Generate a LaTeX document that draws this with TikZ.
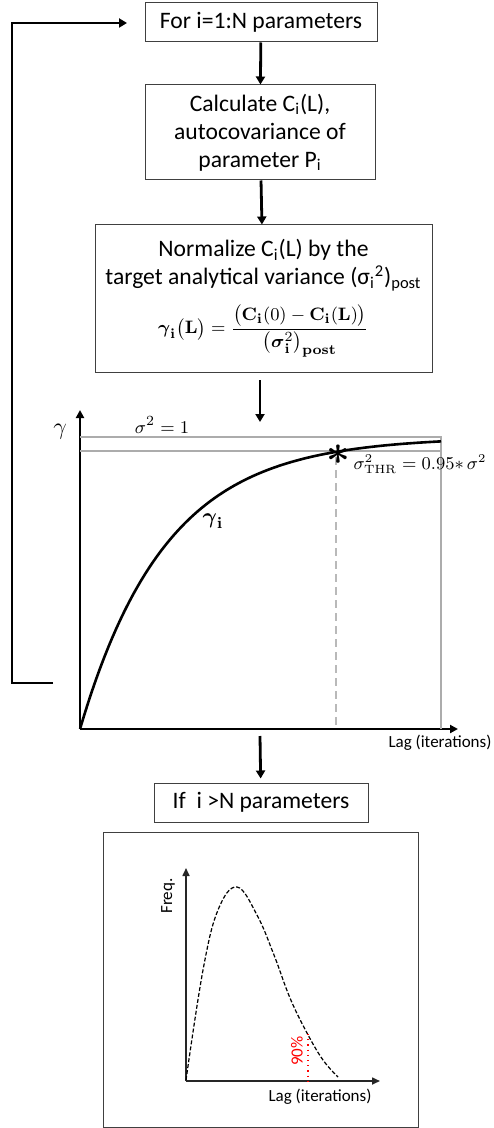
\documentclass[tikz,border=0pt]{standalone}
\usepackage{amsmath}
\usepackage[no-math]{fontspec}
\setmainfont{Carlito}
\usetikzlibrary{arrows.meta,positioning,calc}

\begin{document}
\begin{tikzpicture}[
  x=0.5pt, y=-0.5pt,
  every node/.style={font=\fontsize{11.8}{14}\selectfont},
  box/.style={draw=black!75, line width=0.5pt, align=center, inner sep=2pt, fill=white},
  arr/.style={-{Triangle[length=4pt,width=4.5pt]}, line width=1.4pt},
  axis/.style={-{Triangle[length=4pt,width=4pt]}, line width=1.3pt},
  axs/.style={-{Triangle[length=4pt,width=3.5pt]}, line width=0.8pt, draw=black!85},
  refline/.style={draw=gray!65, line width=0.6pt},
  lab/.style={font=\fontsize{8.5}{10}\selectfont},
  mlab/.style={font=\fontsize{9}{11}\selectfont}
]
\useasboundingbox (0,0) rectangle (493,1128);

%% flow boxes
\node[box, minimum width=116pt, minimum height=19.5pt] (loop) at (261,22.5) {For i=1:N parameters};
\node[box, minimum width=115pt, minimum height=47.5pt] (acov) at (260,132.5)
  {Calculate C\textsubscript{i}(L),\\ autocovariance of\\ parameter P\textsubscript{i}};
\node[box, minimum width=168.5pt, minimum height=73.5pt] (norm) at (263.5,298.5)
  {Normalize C\textsubscript{i}(L) by the\\
   target analytical variance (σ\textsubscript{i}\textsuperscript{2})\textsubscript{post}\\[6pt]
   {\fontsize{9.5}{12}\selectfont$\displaystyle \boldsymbol{\gamma}_{\mathbf{i}}\bigl(\mathbf{L}\bigr)=
   \frac{\bigl(\mathbf{C}_{\mathbf{i}}(0)-\mathbf{C}_{\mathbf{i}}(\mathbf{L})\bigr)}
   {\bigl(\boldsymbol{\sigma}_{\mathbf{i}}^{2}\bigr)_{\mathbf{post}}}$}};
\node[box, minimum width=107pt, minimum height=19.5pt] (done) at (261,802.5) {If\ \ i >N parameters};

\draw[arr] (loop) -- (acov);
\draw[arr] (acov) -- (norm);

\coordinate (n1) at (260,380);
\coordinate (n2) at (260,422);
\draw[arr] (n1) -- (n2);

%% autocorrelation plot
\coordinate (o)    at (80,729);
\coordinate (ytop) at (80,410);
\coordinate (xend) at (458,729);
\draw[axis] (o) -- (ytop);
\draw[axis] (o) -- (xend);
\draw[refline] (80,437) -- (441,437) -- (441,729);
\draw[refline] (80,451) -- (441,451);
\draw[gray!55, line width=1pt, dash pattern=on 4pt off 2.5pt] (336,457) -- (336,729);
\draw[line width=1.3pt] plot[domain=0:361, samples=90] ({80+\x},{729-292*(1-exp(-\x/86))});
\node (star) at (338,455) {\huge$\boldsymbol{\ast}$};

\node[mlab, font=\fontsize{12}{14}\selectfont] (gam) at (60,432) {$\gamma$};
\node[mlab, font=\fontsize{9.5}{12}\selectfont] (sone) at (162,425) {$\sigma^{2}=1$};
\node[mlab] (sthr) at (420,464) {$\sigma^{2}_{\mathrm{THR}}=0.95{*}\,\sigma^{2}$};
\node[mlab, font=\fontsize{11}{13}\selectfont] (gami) at (213,521) {$\boldsymbol{\gamma}_{\mathbf{i}}$};
\node[lab] (lagA) at (440,743) {Lag (iterations)};

\coordinate (n3) at (260,736);
\draw[arr, shorten >=2pt] (n3) -- (done);

%% feedback loop
\coordinate (fbin)  at (53,683);
\coordinate (fbout) at (127,23);
\draw[arr] (fbin) -- ++(-41,0) |- (fbout);

%% histogram of lags
\node[box, minimum width=157.5pt, minimum height=147.5pt] (hist) at (260.5,979.5) {};
\coordinate (o2) at (186,1081);
\draw[axs] (o2) -- (186,868);
\draw[axs] (o2) -- (380,1081);
\draw[dashed, dash pattern=on 2pt off 1pt, line width=0.6pt] plot[smooth, tension=0.65] coordinates
  {(186,1080) (203,970) (218,910) (237,887) (257,915) (274,955) (290,998) (307,1033) (323,1060) (338,1077)};
\draw[red, dotted, line width=0.6pt] (308,1034) -- (o2 -| 308,0);
\node[lab, rotate=90, text=red] (pct) at (297,1051) {90\%};
\node[lab, rotate=90] (freq) at (168,896) {Freq.};
\node[lab] (lagB) at (320,1097) {Lag (iterations)};

\end{tikzpicture}
\end{document}
